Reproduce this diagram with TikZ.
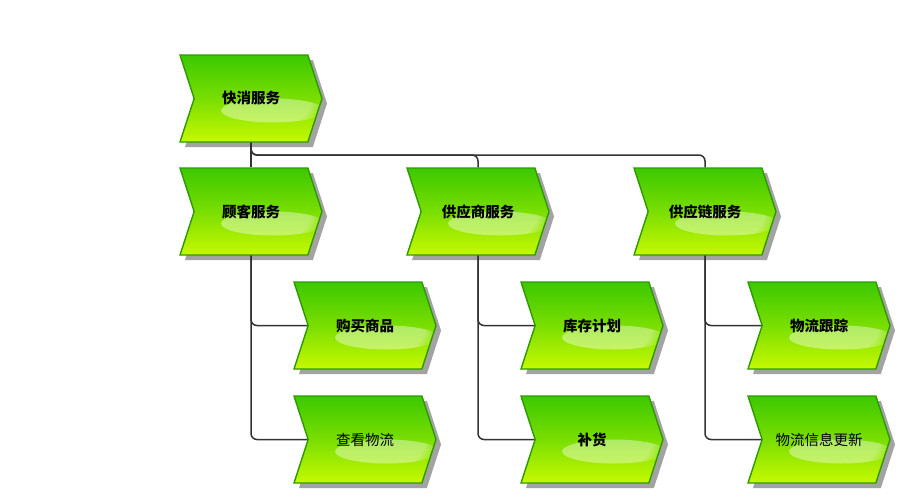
\documentclass[tikz,border=0pt]{standalone}
\usepackage{fontspec}
\newfontfamily\cjk{Noto Sans CJK SC}
\usetikzlibrary{shapes.symbols,shadows,fadings}
\definecolor{fgtop}{HTML}{3CC800}
\definecolor{fgmid}{HTML}{7ADE00}
\definecolor{fgbot}{HTML}{C6F900}
\definecolor{fgedge}{HTML}{2E9A00}
\definecolor{shadowgray}{HTML}{A3A3A3}
\definecolor{wire}{HTML}{333333}
\begin{document}
\begin{tikzpicture}[x=1pt,y=-1pt,
  func/.style={signal, signal to=east, signal from=west, signal pointer angle=144,
    minimum width=142pt, minimum height=87pt, inner sep=0pt,
    draw=fgedge, line width=1.4pt,
    top color=fgtop, bottom color=fgbot, middle color=fgmid,
    font=\cjk\fontsize{14.5}{17}\selectfont,
    drop shadow={shadow xshift=5pt, shadow yshift=-5pt, fill=shadowgray, opacity=1},
    path picture={\fill[white, opacity=0.4, path fading=circle with fuzzy edge 20 percent]
      ([xshift=22pt,yshift=-12pt]path picture bounding box.center) ellipse (52pt and 12pt);}},
  conn/.style={draw=wire, line width=1.5pt, rounded corners=6pt}]
\useasboundingbox (0,0) rectangle (901,496);

% top level
\node[func] (k)  at (251, 98.5) {\bfseries 快消服务};
% second level
\node[func] (c1) at (251,211.5) {\bfseries 顾客服务};
\node[func] (c2) at (478,211.5) {\bfseries 供应商服务};
\node[func] (c3) at (705,211.5) {\bfseries 供应链服务};
% third level
\node[func] (a1) at (365,325.5) {\bfseries 购买商品};
\node[func] (a2) at (365,439.5) {查看物流};
\node[func] (b1) at (592,325.5) {\bfseries 库存计划};
\node[func] (b2) at (592,439.5) {\bfseries 补货};
\node[func] (d1) at (819,325.5) {\bfseries 物流跟踪};
\node[func] (d2) at (819,439.5) {物流信息更新};

% connectors
\coordinate (bus) at (0,155);
\draw[conn] (k.south) -- (c1.north);
\draw[conn] (k.south) -- (k.south |- bus) -| (c2.north);
\draw[conn] (k.south) -- (k.south |- bus) -| (c3.north);
\draw[conn] (c1.south) |- (a1.west);
\draw[conn] (c1.south) |- (a2.west);
\draw[conn] (c2.south) |- (b1.west);
\draw[conn] (c2.south) |- (b2.west);
\draw[conn] (c3.south) |- (d1.west);
\draw[conn] (c3.south) |- (d2.west);
\end{tikzpicture}
\end{document}
